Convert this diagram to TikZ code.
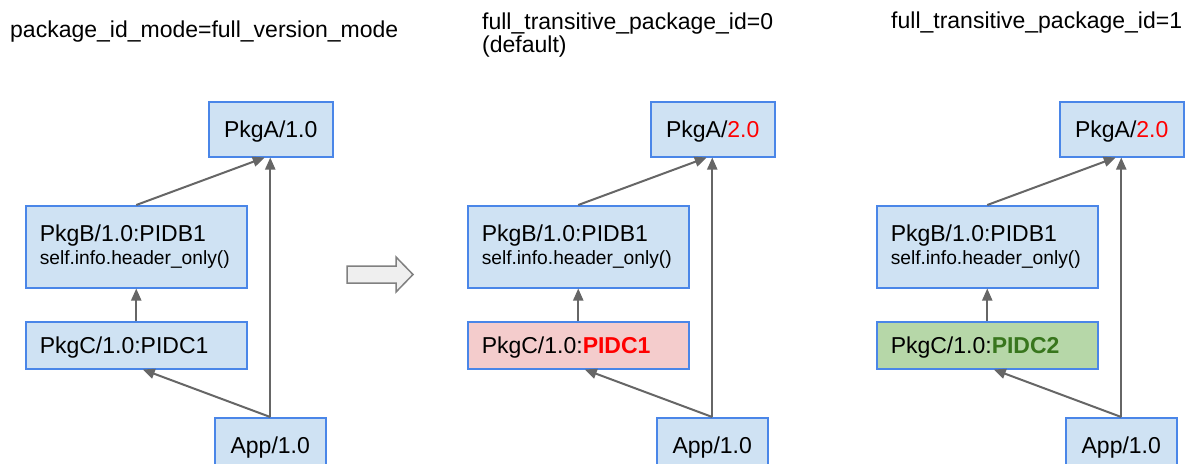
\documentclass[tikz,border=0pt]{standalone}
\usepackage{fontspec}
\setmainfont{Liberation Sans}
\usetikzlibrary{arrows.meta}

\definecolor{boxfill}{HTML}{CFE2F3}
\definecolor{boxline}{HTML}{4A86E8}
\definecolor{pinkfill}{HTML}{F4CCCC}
\definecolor{greenfill}{HTML}{B6D7A8}
\definecolor{greentext}{HTML}{38761D}
\definecolor{arrowgray}{HTML}{666666}
\definecolor{bigfill}{HTML}{EFEFEF}
\definecolor{bigline}{HTML}{808080}

\tikzset{
    pkg/.style={draw=boxline, fill=boxfill, line width=1.5pt, anchor=north west,
        inner sep=0pt, font=\fontsize{23}{23}\selectfont},
    pkgwide/.style={pkg, minimum width=221pt, text width=193pt, inner xsep=14pt, align=left},
    title/.style={inner sep=0pt, font=\fontsize{23}{20}\selectfont},
    dep/.style={-{Triangle[length=12pt,width=10pt]}, draw=arrowgray, line width=2pt},
}

\begin{document}
\begin{tikzpicture}[x=1pt, y=-1pt]
    \useasboundingbox (0,0) rectangle (1185,463);

    % The labels above the three columns
    \node[title, anchor=base west] (modetitle) at (10,37) {package\_id\_mode=full\_version\_mode};
    \node[title, anchor=north west, align=left] (defaulttitle) at (482,13)
        {full\_transitive\_package\_id=0\\(default)};
    \node[title, anchor=base west] (transtitle) at (891,28) {full\_transitive\_package\_id=1};

    % Left column -> full_version_mode
    \node[pkg, minimum width=124pt, minimum height=55pt, text depth=0pt] (pkgaL) at (208,101) {PkgA/1.0};
    \node[pkgwide, minimum height=82pt] (pkgbL) at (25,205)
        {PkgB/1.0:PIDB1\\{\fontsize{19.2}{23}\selectfont self.info.header\_only()}};
    \node[pkgwide, minimum height=47pt, text depth=0pt] (pkgcL) at (25,321) {PkgC/1.0:PIDC1};
    \node[pkg, minimum width=111pt, minimum height=55.5pt, text depth=0pt] (appL) at (214,417) {App/1.0};

    % Middle column -> the default
    \node[pkg, minimum width=124pt, minimum height=55pt, text depth=0pt] (pkgaM) at (650,101)
        {PkgA/\textcolor{red}{2.0}};
    \node[pkgwide, minimum height=82pt] (pkgbM) at (467,205)
        {PkgB/1.0:PIDB1\\{\fontsize{19.2}{23}\selectfont self.info.header\_only()}};
    \node[pkgwide, fill=pinkfill, minimum height=47pt, text depth=0pt] (pkgcM) at (467,321)
        {PkgC/1.0:\textcolor{red}{\bfseries PIDC1}};
    \node[pkg, minimum width=111pt, minimum height=55.5pt, text depth=0pt] (appM) at (656,417) {App/1.0};

    % Right column -> full_transitive_package_id=1
    \node[pkg, minimum width=124pt, minimum height=55pt, text depth=0pt] (pkgaR) at (1059,101)
        {PkgA/\textcolor{red}{2.0}};
    \node[pkgwide, minimum height=82pt] (pkgbR) at (876,205)
        {PkgB/1.0:PIDB1\\{\fontsize{19.2}{23}\selectfont self.info.header\_only()}};
    \node[pkgwide, fill=greenfill, minimum height=47pt, text depth=0pt] (pkgcR) at (876,321)
        {PkgC/1.0:\textcolor{greentext}{\bfseries PIDC2}};
    \node[pkg, minimum width=111pt, minimum height=55.5pt, text depth=0pt] (appR) at (1065,417) {App/1.0};

    % the dependency arrows of each column
    \foreach \c in {L,M,R} {
        \draw[dep] (pkgb\c.north) -- ([xshift=-6pt]pkga\c.south);
        \draw[dep] (app\c.north) -- (app\c.north |- pkga\c.south);
        \draw[dep] (pkgc\c.north) -- (pkgb\c.south);
        \draw[dep] (app\c.north) -- ([xshift=6.5pt]pkgc\c.south);
    }

    % The big grey arrow between the left and the middle column
    \draw[fill=bigfill, draw=bigline, line width=1.5pt] (347,266) -- ++(49,0) -- ++(0,-9)
        -- (413,274.5) -- (396,292) -- ++(0,-9) -- (347,283) -- cycle;
\end{tikzpicture}
\end{document}
